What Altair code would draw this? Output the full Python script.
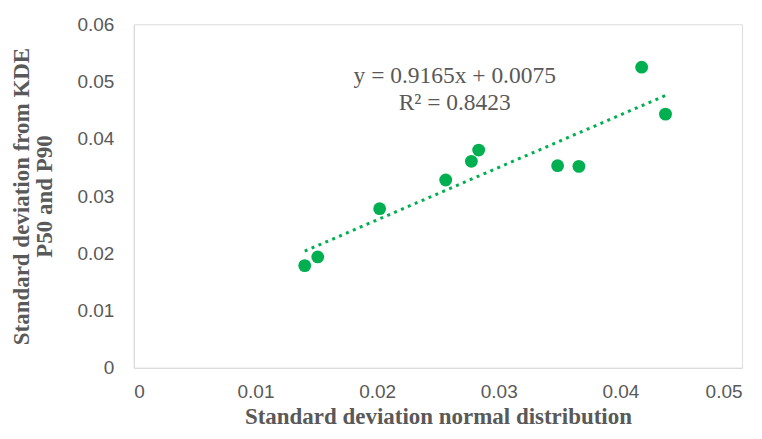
import altair as alt
import pandas as pd

x_vals = [0.01405, 0.01512, 0.02021, 0.02564, 0.02775, 0.02835, 0.03484, 0.03659, 0.04175, 0.04371]
y_vals = [0.01785, 0.01936, 0.02779, 0.03280, 0.03606, 0.03803, 0.03530, 0.03518, 0.05250, 0.04430]

slope = 0.9165
intercept = 0.0075
eq_lines = ["y = 0.9165x + 0.0075", "R² = 0.8423"]
eq_x = [0.02638, 0.02638]
eq_y = [0.05093, 0.04622]

x_ticks = [0, 0.01, 0.02, 0.03, 0.04, 0.05]
y_ticks = [0, 0.01, 0.02, 0.03, 0.04, 0.05, 0.06]

green = "#00B050"
gray = "#595959"

df = pd.DataFrame({"x": x_vals, "y": y_vals})
eq_df = pd.DataFrame({"x": eq_x, "y": eq_y, "t": eq_lines})

xscale = alt.Scale(domain=[0, 0.05], nice=False)
yscale = alt.Scale(domain=[0, 0.06], nice=False)

xaxis = alt.Axis(values=x_ticks, labelPadding=15,
                 title="Standard deviation normal distribution", titlePadding=4)
yaxis = alt.Axis(values=y_ticks, labelPadding=20,
                 title=["Standard deviation from KDE", "P50 and P90"], titlePadding=20,
                 titleLineHeight=23)

base = alt.Chart(df)

trend = base.transform_calculate(
    yt=f"{slope} * datum.x + {intercept}"
).mark_line(color=green, strokeWidth=3, strokeDash=[3, 4.5]).encode(
    x=alt.X("x:Q", scale=xscale, axis=xaxis),
    y=alt.Y("yt:Q", scale=yscale, axis=yaxis),
)

points = base.mark_circle(size=165, color=green, opacity=1).encode(
    x=alt.X("x:Q", scale=xscale),
    y=alt.Y("y:Q", scale=yscale),
)

eq = alt.Chart(eq_df).mark_text(font="Liberation Serif", fontSize=23.5, color=gray,
                                baseline="middle", align="center").encode(
    x=alt.X("x:Q", scale=xscale),
    y=alt.Y("y:Q", scale=yscale),
    text="t:N",
)

chart = alt.layer(trend, points, eq).properties(
    width=609, height=344,
    autosize=alt.AutoSizeParams(type="none"),
    padding={"left": 126, "top": 16, "right": 12, "bottom": 63},
).configure_view(stroke=None).configure(background="white").configure_axis(
    grid=False, ticks=False, domainColor="#d9d9d9", domainWidth=1,
    labelFont="Liberation Sans", labelFontSize=19, labelColor=gray,
    labelExpr="datum.value == 0 ? '0' : format(datum.value, '.2f')",
    titleFont="Liberation Serif", titleFontSize=23, titleFontWeight="bold", titleColor=gray,
)

chart.save("out.html", embed_options={"renderer": "svg", "actions": False})
